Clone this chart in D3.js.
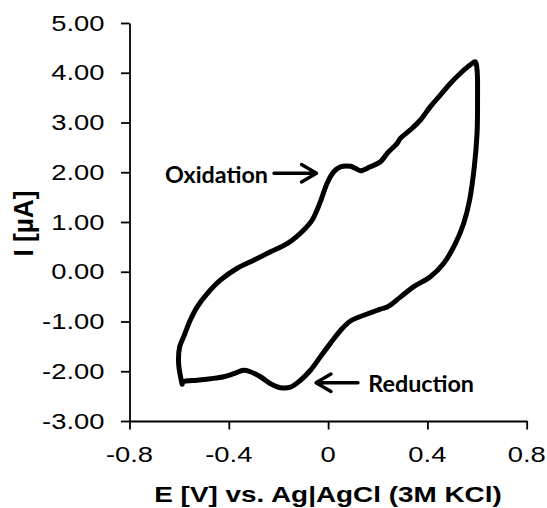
<!DOCTYPE html>
<html>
<head>
<meta charset="utf-8">
<script src="https://cdn.jsdelivr.net/npm/d3@7"></script>
<style>
  html, body { margin: 0; padding: 0; background: #fff; }
  svg { display: block; }
  text { fill: #000; }
</style>
</head>
<body>
<svg id="chart" width="547" height="508"></svg>
<script>
// Cyclic voltammogram: potential (V) and current (µA) along the scan loop
const potential = [
  -0.588, -0.602, -0.598, -0.582, -0.555, -0.528, -0.487, -0.434, -0.366, -0.300,
  -0.232, -0.160, -0.098, -0.064, -0.031, -0.004, 0.023, 0.050, 0.090,
  0.110, 0.130, 0.170, 0.211, 0.238, 0.278, 0.291, 0.331, 0.372, 0.412,
  0.452, 0.493, 0.533, 0.573, 0.593,
  0.600, 0.602, 0.600, 0.589, 0.570, 0.546, 0.513, 0.466, 0.412, 0.345,
  0.291, 0.238, 0.211, 0.157, 0.090, 0.050, 0.009, -0.031, -0.071, -0.111,
  -0.152, -0.192, -0.232, -0.273, -0.313, -0.340, -0.380, -0.420, -0.474, -0.528,
  -0.582, -0.588
];
const current = [
  -2.26, -1.85, -1.51, -1.31, -0.97, -0.71, -0.44, -0.17, 0.07, 0.23,
  0.40, 0.58, 0.84, 1.04, 1.41, 1.78, 2.01, 2.11, 2.12,
  2.08, 2.03, 2.11, 2.21, 2.38, 2.58, 2.68, 2.85, 3.05, 3.32,
  3.55, 3.79, 3.99, 4.16, 4.22,
  4.06, 3.45, 2.78, 2.11, 1.44, 0.97, 0.57, 0.17, -0.10, -0.30,
  -0.51, -0.71, -0.75, -0.85, -0.99, -1.18, -1.44, -1.71, -1.98, -2.18,
  -2.32, -2.33, -2.25, -2.11, -2.01, -1.98, -2.05, -2.11, -2.15, -2.18,
  -2.21, -2.26
];

const xTicks = [-0.8, -0.4, 0, 0.4, 0.8];
const xTickLabels = ["-0.8", "-0.4", "0", "0.4", "0.8"];
const yTicks = [-3, -2, -1, 0, 1, 2, 3, 4, 5];
const yTickLabels = ["-3.00", "-2.00", "-1.00", "0.00", "1.00", "2.00", "3.00", "4.00", "5.00"];

const xTitle = "E [V] vs. Ag|AgCl (3M KCl)";
const yTitle = "I [µA]";
const oxLabel = "Oxidation";
const redLabel = "Reduction";

const svg = d3.select("#chart");
const plotLeft = 129.5, plotRight = 526.7, plotTop = 23, plotBottom = 421;
const sx = 1.28; // horizontal text stretch

const x = d3.scaleLinear().domain([-0.8, 0.8]).range([plotLeft, plotRight]);
const y = d3.scaleLinear().domain([-3, 5]).range([plotBottom, plotTop]);

const sans = "'Liberation Sans', Arial, Helvetica, sans-serif";

// axes
const xAxis = svg.append("g")
  .attr("transform", `translate(0,${plotBottom})`)
  .call(d3.axisBottom(x).tickValues(xTicks).tickSize(8.5).tickSizeOuter(0).tickFormat(""));
const yAxis = svg.append("g")
  .attr("transform", `translate(${plotLeft},0)`)
  .call(d3.axisLeft(y).tickValues(yTicks).tickSize(8.5).tickSizeOuter(0).tickFormat(""));
[xAxis, yAxis].forEach(g => {
  g.selectAll("path, line").attr("stroke", "#000").attr("stroke-width", 1.8);
  g.selectAll("text").remove();
});

// tick labels
svg.append("g").selectAll("text").data(yTicks).join("text")
  .attr("transform", d => `translate(104.5,${y(d) + 7.7}) scale(${sx},1)`)
  .attr("text-anchor", "end")
  .style("font-family", sans).style("font-size", "21.4px")
  .text((d, i) => yTickLabels[i]);

svg.append("g").selectAll("text").data(xTicks).join("text")
  .attr("transform", d => `translate(${x(d)},461.7) scale(${sx},1)`)
  .attr("text-anchor", "middle")
  .style("font-family", sans).style("font-size", "21.4px")
  .text((d, i) => xTickLabels[i]);

// axis titles
svg.append("text")
  .attr("transform", `translate(328,501.7) scale(${sx},1)`)
  .attr("text-anchor", "middle")
  .style("font-family", sans).style("font-size", "21.8px").style("font-weight", "bold")
  .text(xTitle);

svg.append("text")
  .attr("transform", `translate(33,223.5) scale(${sx},1) rotate(-90)`)
  .attr("text-anchor", "middle")
  .attr("textLength", 66).attr("lengthAdjust", "spacingAndGlyphs")
  .style("font-family", sans).style("font-size", "21.8px").style("font-weight", "bold")
  .text(yTitle);

// voltammogram loop
const pts = potential.map((e, i) => [e, current[i]]);
svg.append("path")
  .datum(pts)
  .attr("fill", "none")
  .attr("stroke", "#000")
  .attr("stroke-width", 5)
  .attr("stroke-linejoin", "round")
  .attr("stroke-linecap", "round")
  .attr("d", d3.line().x(d => x(d[0])).y(d => y(d[1])).curve(d3.curveCatmullRom.alpha(0.5)));

// annotations
const annFont = "Lato, 'Open Sans', 'DejaVu Sans', sans-serif";
svg.append("text")
  .attr("x", 165).attr("y", 182.7)
  .attr("textLength", 103).attr("lengthAdjust", "spacingAndGlyphs")
  .style("font-family", annFont).style("font-size", "22.5px").style("font-weight", "bold")
  .text(oxLabel);
svg.append("text")
  .attr("x", 368.3).attr("y", 392.3)
  .attr("textLength", 105.7).attr("lengthAdjust", "spacingAndGlyphs")
  .style("font-family", annFont).style("font-size", "22.5px").style("font-weight", "bold")
  .text(redLabel);

const arrows = svg.append("g").attr("fill", "none").attr("stroke", "#000")
  .attr("stroke-width", 3.4).attr("stroke-linecap", "round").attr("stroke-linejoin", "round");
arrows.append("path").attr("d", "M274,173.3 H315.5 M301.5,164.5 L316.5,173.3 L301.5,182");
arrows.append("path").attr("d", "M358,382.7 H317 M331,374 L316,382.7 L331,391.5");
</script>
</body>
</html>
